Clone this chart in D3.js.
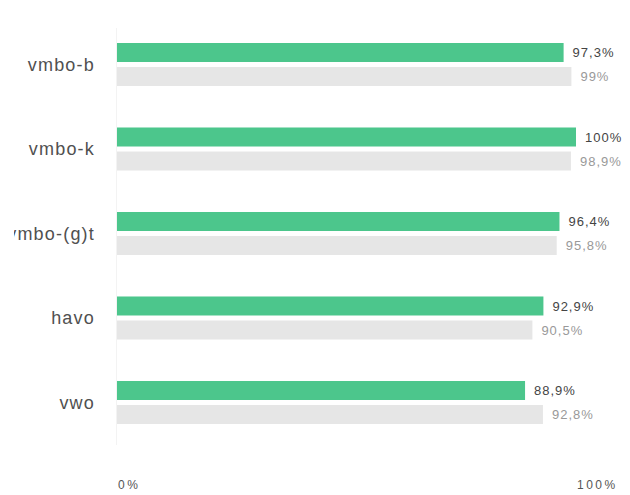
<!DOCTYPE html>
<html lang="nl">
<head>
  <meta charset="utf-8">
  <script src="https://d3js.org/d3.v7.min.js"></script>
  <style>
    body { margin: 0; background: #fff; font-family: 'Liberation Sans', Arial, sans-serif; }
    .cat { font-size: 18px; fill: #505050; letter-spacing: 1.2px; }
    .val { font-size: 13px; letter-spacing: 1px; }
    .tick-label { font-size: 12px; fill: #555; letter-spacing: 2.5px; }
  </style>
</head>
<body>
  <svg id="chart" width="630" height="495"></svg>
  <script>
    const categories = ["vmbo-b", "vmbo-k", "vmbo-(g)t", "havo", "vwo"];
    const school = [97.3, 100, 96.4, 92.9, 88.9];
    const national = [99, 98.9, 95.8, 90.5, 92.8];
    const tickValues = [0, 100];

    const series = ["school", "national"];
    const colors = { school: "#4cc68c", national: "#e6e6e6" };
    const labelColors = { school: "#444", national: "#999" };

    const rows = categories.map((c, i) => ({ cat: c, school: school[i], national: national[i] }));

    const svg = d3.select("#chart");

    const x = d3.scaleLinear().domain([0, 100]).range([117, 576]);
    const y = d3.scaleBand().domain(categories).range([43, 424]).paddingInner(0.491).paddingOuter(0);
    const ySub = d3.scaleBand().domain(series).range([0, y.bandwidth()]).paddingInner(0.2083);

    const fmt = v => String(v).replace(".", ",") + "%";

    // faint baseline
    svg.append("line")
      .attr("x1", x(0) - 0.5).attr("x2", x(0) - 0.5)
      .attr("y1", 28).attr("y2", 445)
      .attr("stroke", "#f3f3f3");

    svg.append("defs").append("clipPath").attr("id", "lab-clip")
      .append("rect").attr("x", 14).attr("y", 0).attr("width", 616).attr("height", 495);

    const g = svg.selectAll(".grp").data(rows).enter().append("g")
      .attr("class", "grp")
      .attr("transform", d => `translate(0,${y(d.cat)})`);

    g.append("text")
      .attr("class", "cat")
      .attr("clip-path", "url(#lab-clip)")
      .attr("x", 95)
      .attr("y", y.bandwidth() / 2)
      .attr("dy", "0.35em")
      .attr("text-anchor", "end")
      .text(d => d.cat);

    series.forEach(s => {
      g.append("rect")
        .attr("x", x(0))
        .attr("y", ySub(s))
        .attr("width", d => x(d[s]) - x(0))
        .attr("height", ySub.bandwidth())
        .attr("fill", colors[s]);

      g.append("text")
        .attr("class", "val")
        .attr("x", d => x(d[s]) + 9)
        .attr("y", ySub(s) + ySub.bandwidth() / 2)
        .attr("dy", "0.35em")
        .attr("fill", labelColors[s])
        .text(d => fmt(d[s]));
    });

    svg.selectAll(".tick-label").data(tickValues).enter().append("text")
      .attr("class", "tick-label")
      .attr("x", d => x(d) + 1)
      .attr("y", 489)
      .text(d => d + "%");
  </script>
</body>
</html>
